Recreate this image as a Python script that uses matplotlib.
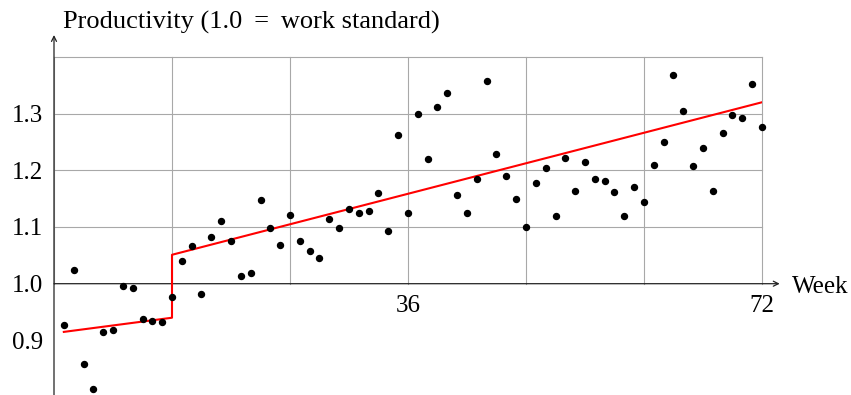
import numpy as np
import matplotlib
matplotlib.use('Agg')
import matplotlib.pyplot as plt

plt.rcParams['font.family'] = ['Liberation Serif', 'DejaVu Serif']

# weekly productivity readings
weeks = np.arange(1, 73)
productivity = [0.928, 1.024, 0.858, 0.814, 0.914, 0.918, 0.996, 0.992, 0.938, 0.934,
                0.932, 0.976, 1.040, 1.066, 0.982, 1.082, 1.110, 1.076, 1.014, 1.018,
                1.148, 1.099, 1.068, 1.122, 1.076, 1.058, 1.046, 1.114, 1.098, 1.132,
                1.124, 1.129, 1.160, 1.093, 1.262, 1.124, 1.300, 1.220, 1.312, 1.336,
                1.156, 1.124, 1.184, 1.358, 1.228, 1.190, 1.150, 1.100, 1.178, 1.204,
                1.120, 1.222, 1.164, 1.214, 1.184, 1.182, 1.162, 1.120, 1.170, 1.144,
                1.210, 1.250, 1.368, 1.304, 1.208, 1.240, 1.164, 1.266, 1.298, 1.292,
                1.352, 1.276]

# fitted trend (jump at week 12)
fit_weeks = [1, 12, 12, 72]
fit_values = [0.915, 0.940, 1.051, 1.320]

yticks = [0.9, 1.0, 1.1, 1.2, 1.3]
xtick_pos = [36, 72]
xtick_labels = ['36', '72']
grid_x = [0, 12, 24, 36, 48, 60, 72]
grid_y = [1.1, 1.2, 1.3, 1.4]

fig = plt.figure(figsize=(8.51, 3.95), dpi=100)
ax = fig.add_axes([54/851, 0, 708/851, 338.1/395])
ax.set_xlim(0, 72)
ax.set_ylim(0.8037, 1.4)
for s in ax.spines.values():
    s.set_visible(False)

# grid only above the 1.0 line
for gx in grid_x:
    ax.plot([gx, gx], [1.0, 1.4], color='#a8a8a8', lw=0.8, zorder=1, clip_on=False)
for gy in grid_y:
    ax.plot([0, 72], [gy, gy], color='#a8a8a8', lw=0.8, zorder=1, clip_on=False)

# axes with arrows
ax.annotate('', xy=(73.8, 1.0), xytext=(0, 1.0),
            arrowprops=dict(arrowstyle='->', lw=0.9, color='#222222', shrinkA=0, shrinkB=0,
                            mutation_scale=9), annotation_clip=False, zorder=2)
ax.annotate('', xy=(0, 1.4386), xytext=(0, 0.8037),
            arrowprops=dict(arrowstyle='->', lw=0.9, color='#222222', shrinkA=0, shrinkB=0,
                            mutation_scale=9), annotation_clip=False, zorder=2)

ax.plot(weeks, productivity, 'o', color='black', markersize=4.3, zorder=4, clip_on=False)
ax.plot(fit_weeks, fit_values, color='red', lw=1.5, zorder=3)

ax.set_yticks(yticks)
ax.set_yticklabels(['%.1f' % v for v in yticks])
ax.tick_params(axis='y', length=0, pad=8, labelsize=18)
ax.set_xticks([])

for p, l in zip(xtick_pos, xtick_labels):
    ax.text(p, 0.950, l, ha='center', va='baseline', fontsize=18)

ax.text(75.05, 0.983, 'Week', ha='left', va='baseline', fontsize=18)
ax.text(0.92, 1.450, 'Productivity (1.0 \u2009=\u2009 work standard)', ha='left', va='baseline',
        fontsize=19, clip_on=False)

fig.savefig('out.png', dpi=100)
